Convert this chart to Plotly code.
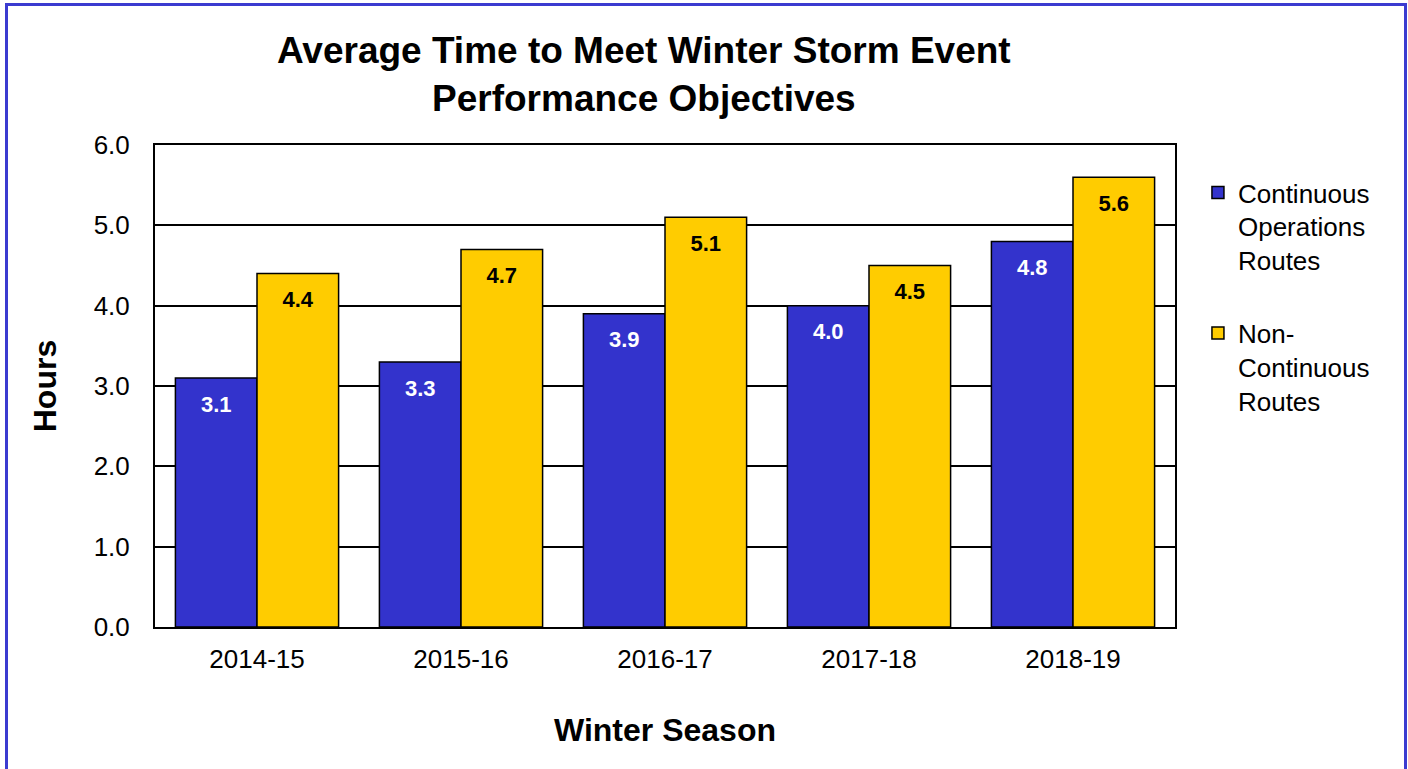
import plotly.graph_objects as go

seasons = ["2014-15", "2015-16", "2016-17", "2017-18", "2018-19"]
continuous = [3.1, 3.3, 3.9, 4.0, 4.8]
non_continuous = [4.4, 4.7, 5.1, 4.5, 5.6]
y_ticks = [0, 1, 2, 3, 4, 5, 6]
y_tick_labels = ["0.0", "1.0", "2.0", "3.0", "4.0", "5.0", "6.0"]

FONT = "Liberation Sans, Arial, sans-serif"
BLUE = "#3333CC"
GOLD = "#FFCC00"

fig = go.Figure()
fig.add_trace(go.Bar(
    x=seasons, y=continuous, name="Continuous<br>Operations<br>Routes",
    legendgroup="a", offsetgroup="a",
    marker=dict(color=BLUE, line=dict(color="black", width=1.5)),
    hoverinfo="x+y",
))
fig.add_trace(go.Bar(
    x=seasons, y=non_continuous, name="Non-<br>Continuous<br>Routes",
    legendgroup="b", offsetgroup="b",
    marker=dict(color=GOLD, line=dict(color="black", width=1.5)),
    hoverinfo="x+y",
))
# value labels, grouped like the bars
for vals, col, grp in [(continuous, "white", "a"), (non_continuous, "black", "b")]:
    fig.add_trace(go.Scatter(
        x=seasons, y=vals, mode="markers+text", offsetgroup=grp,
        text=[f"{v:.1f}" for v in vals], textposition="bottom center",
        textfont=dict(color=col, size=22, family=FONT, weight="bold"),
        marker=dict(size=26, opacity=0), showlegend=False, hoverinfo="skip",
        cliponaxis=False,
    ))

fig.update_layout(
    width=1408, height=769,
    margin=dict(l=155, r=233, t=145, b=142),
    paper_bgcolor="white", plot_bgcolor="white",
    font=dict(family=FONT, color="black", size=26),
    barmode="group", bargap=0.2, bargroupgap=0,
    scattermode="group", scattergap=0.2,
    showlegend=True,
    legend=dict(x=1.0225, xanchor="left", y=0.95, yanchor="top",
                font=dict(size=26, family=FONT), tracegroupgap=36,
                traceorder="grouped", valign="top", bgcolor="rgba(0,0,0,0)"),
    annotations=[
        dict(text="<b>Average Time to Meet Winter Storm Event<br>Performance Objectives</b>",
             xref="paper", yref="paper", x=(644 - 155) / 1020, y=(627 - 28) / 482,
             xanchor="center", yanchor="top", showarrow=False,
             font=dict(size=37, family=FONT), align="center"),
    ],
    shapes=[
        dict(type="rect", xref="paper", yref="paper",
             x0=(6.5 - 155) / 1020, x1=(1405.5 - 155) / 1020,
             y0=(627 - 800) / 482, y1=(627 - 4.5) / 482,
             line=dict(color="#3B3BD0", width=3), fillcolor="rgba(0,0,0,0)", layer="below"),
    ],
)

fig.update_xaxes(
    showline=True, linecolor="black", linewidth=2, mirror=True,
    ticks="", tickfont=dict(size=26), ticklabelstandoff=8,
    title=dict(text="<b>Winter Season</b>", font=dict(size=32), standoff=45),
)
fig.update_yaxes(
    range=[0, 6], tickvals=y_ticks, ticktext=y_tick_labels,
    showline=True, linecolor="black", linewidth=2, mirror=True,
    showgrid=True, gridcolor="black", gridwidth=1.5,
    ticks="", tickfont=dict(size=26), ticklabelstandoff=18,
    title=dict(text="<b>Hours</b>", font=dict(size=32), standoff=27),
    zeroline=False,
)

fig.write_html("out.html", config={"displayModeBar": False},
               post_script="document.body.style.margin='0';")
